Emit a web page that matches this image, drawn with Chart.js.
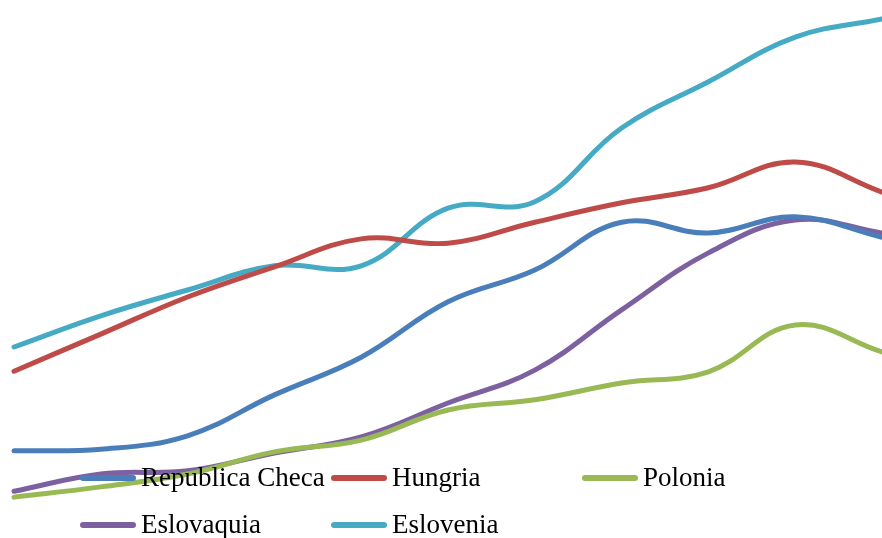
<!DOCTYPE html>
<html>
<head>
<meta charset="utf-8">
<script src="https://cdn.jsdelivr.net/npm/chart.js@4/dist/chart.umd.min.js"></script>
<style>
  html, body { margin: 0; padding: 0; background: #fff; }
  #wrap { position: relative; width: 882px; height: 538px; overflow: hidden; }
  #c { position: absolute; left: 0; top: 0; }
  .lg-line { position: absolute; height: 6px; width: 56px; border-radius: 3px; }
  .lg-text { position: absolute; font-family: "Liberation Serif", serif; font-size: 27px; line-height: 27px; color: #000; white-space: nowrap; }
</style>
</head>
<body>
<div id="wrap">
  <canvas id="c" width="882" height="538"></canvas>
</div>
<script>
// Periods along the horizontal axis
const categories = ['1', '2', '3', '4', '5', '6', '7', '8', '9', '10', '11'];

// Series values, one array per country
const republicaCheca = [16.2, 16.5, 19.0, 26.6, 33.6, 43.9, 49.8, 58.7, 56.7, 59.7, 55.9];
const hungria        = [31.0, 37.9, 44.8, 50.4, 55.6, 54.8, 58.7, 62.3, 65.1, 69.9, 64.3];
const polonia        = [7.6, 9.5, 11.9, 16.0, 18.2, 23.8, 25.7, 28.8, 30.9, 39.6, 34.6];
const eslovaquia     = [8.7, 11.9, 12.5, 15.8, 18.8, 25.1, 31.2, 42.4, 53.0, 59.1, 56.7];
const eslovenia      = [35.5, 41.3, 46.1, 50.6, 50.6, 61.3, 62.5, 76.2, 84.8, 93.1, 96.5];

const seriesNames = ['Republica Checa', 'Hungria', 'Polonia', 'Eslovaquia', 'Eslovenia'];
const seriesData = [republicaCheca, hungria, polonia, eslovaquia, eslovenia];
const seriesColors = ['#4A7EBB', '#BE4B48', '#98B954', '#7D60A0', '#46AAC5'];

const datasets = seriesNames.map((name, i) => ({
  label: name,
  data: seriesData[i],
  borderColor: seriesColors[i],
  backgroundColor: seriesColors[i],
  borderWidth: 5,
  borderCapStyle: 'round',
  borderJoinStyle: 'round',
  pointRadius: 0,
  pointHoverRadius: 0,
  tension: 0.4,
  fill: false,
  clip: false
}));

new Chart(document.getElementById('c'), {
  type: 'line',
  data: { labels: categories, datasets },
  options: {
    responsive: false,
    animation: false,
    layout: { padding: { left: 14, right: 0, top: 0, bottom: 0 } },
    plugins: { legend: { display: false }, tooltip: { enabled: false } },
    scales: {
      x: { display: false, offset: false },
      y: { display: false, min: 0, max: 100 }
    }
  }
});

// Legend laid over the lower part of the plot, two rows of up to three entries
const wrap = document.getElementById('wrap');
const colX = [80, 331, 582];
const rowY = [478, 525];
seriesNames.forEach((name, i) => {
  const col = i % 3, row = Math.floor(i / 3);
  const line = document.createElement('div');
  line.className = 'lg-line';
  line.style.background = seriesColors[i];
  line.style.left = colX[col] + 'px';
  line.style.top = (rowY[row] - 3) + 'px';
  wrap.appendChild(line);
  const txt = document.createElement('div');
  txt.className = 'lg-text';
  txt.textContent = name;
  txt.style.left = (colX[col] + 61) + 'px';
  txt.style.top = (rowY[row] - 14) + 'px';
  wrap.appendChild(txt);
});
</script>
</body>
</html>
